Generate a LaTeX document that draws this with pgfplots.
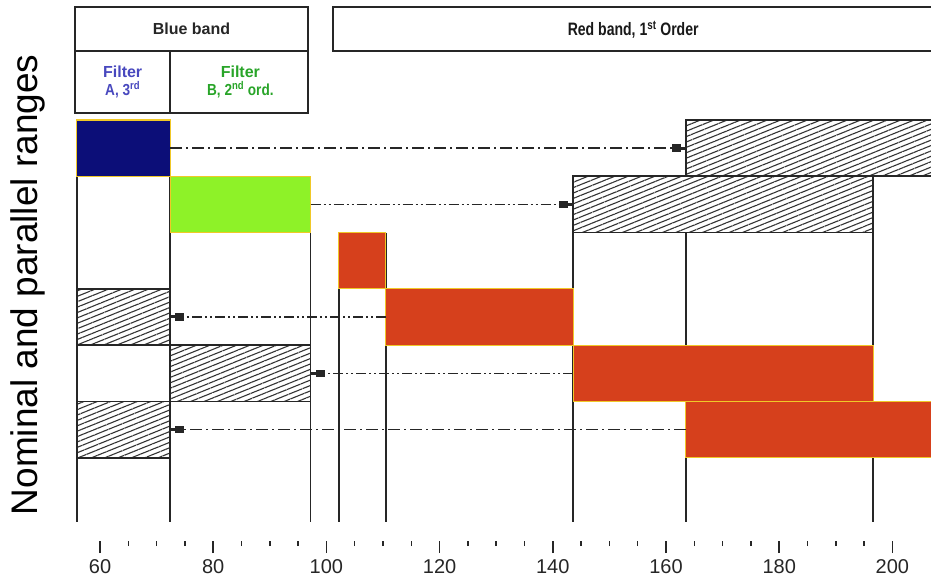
\documentclass[border=0pt]{standalone}
\usepackage{pgfplots}
\pgfplotsset{compat=1.18}
\usepackage{fontspec}
\setmainfont{Liberation Sans}
\usetikzlibrary{patterns.meta,arrows.meta}
\definecolor{navyb}{RGB}{12,14,120}
\definecolor{greenb}{RGB}{142,242,40}
\definecolor{redb}{RGB}{214,64,28}
\definecolor{goldb}{RGB}{240,200,40}
\definecolor{filtA}{RGB}{72,72,190}
\definecolor{filtB}{RGB}{40,164,40}
\tikzset{
  hatch/.style={fill=white, draw=black!85, line width=1.7pt,
    postaction={pattern={Lines[angle=22,distance=5pt,line width=1.1pt]}, pattern color=black!80}},
  colbox/.style={fill=#1, draw=goldb, line width=1.2pt},
  vline/.style={draw=black!85, line width=1.8pt},
  arr/.style={line width=1.4pt, draw=black!85, -{Rectangle[length=9pt,width=7.5pt,sep=0pt]Rectangle[length=5pt,width=3pt,sep=0pt]}},
  dd/.style={dash pattern=on 10pt off 3pt on 2pt off 3pt on 2pt off 3pt},
  dot1/.style={dash pattern=on 12pt off 4pt on 2pt off 4pt},
}
\begin{document}
\begin{tikzpicture}
\begin{axis}[
  x=5.66pt, y=56.3pt,
  xmin=50, xmax=206.8, ymin=-1.48, ymax=6,
  clip=false,
  axis x line*=bottom, axis y line=none,
  x axis line style={draw=none}, axis line style={draw=none},
  xtick={60,80,...,200},
  minor xtick={65,70,75,85,90,95,105,110,115,125,130,135,145,150,155,165,170,175,185,190,195},
  xtick align=outside,
  major tick length=12pt, minor tick length=5pt,
  tick style={line width=1.5pt, black!85},
  xticklabel style={font=\fontsize{20}{24}\selectfont, black!85, yshift=-3pt},
  /pgf/number format/assume math mode=true,
  ytick=\empty,
]
% vertical lines
\addplot[vline] coordinates {(55.9,6)(55.9,-1.14)};
\addplot[vline] coordinates {(72.4,6)(72.4,-1.14)};
\addplot[vline] coordinates {(97.2,5)(97.2,-1.14)};
\addplot[vline] coordinates {(102.2,4)(102.2,-1.14)};
\addplot[vline] coordinates {(110.5,4)(110.5,-1.14)};
\addplot[vline] coordinates {(143.6,5)(143.6,-1.14)};
\addplot[vline] coordinates {(163.5,6)(163.5,-1.14)};
\addplot[vline] coordinates {(196.6,5)(196.6,-1.14)};
% row 1
\addplot[colbox=navyb] coordinates {(55.9,5)(72.4,5)(72.4,6)(55.9,6)} -- cycle;
\addplot[hatch] coordinates {(163.5,5)(215,5)(215,6)(163.5,6)} -- cycle;
% row 2
\addplot[colbox=greenb] coordinates {(72.4,4)(97.2,4)(97.2,5)(72.4,5)} -- cycle;
\addplot[hatch] coordinates {(143.6,4)(196.6,4)(196.6,5)(143.6,5)} -- cycle;
% row 3
\addplot[colbox=redb] coordinates {(102.2,3)(110.5,3)(110.5,4)(102.2,4)} -- cycle;
% row 4
\addplot[hatch] coordinates {(55.9,2)(72.4,2)(72.4,3)(55.9,3)} -- cycle;
\addplot[colbox=redb] coordinates {(110.5,2)(143.6,2)(143.6,3)(110.5,3)} -- cycle;
% row 5
\addplot[hatch] coordinates {(72.4,1)(97.2,1)(97.2,2)(72.4,2)} -- cycle;
\addplot[colbox=redb] coordinates {(143.6,1)(196.6,1)(196.6,2)(143.6,2)} -- cycle;
% row 6
\addplot[hatch] coordinates {(55.9,0)(72.4,0)(72.4,1)(55.9,1)} -- cycle;
\addplot[colbox=redb] coordinates {(163.5,0)(215,0)(215,1)(163.5,1)} -- cycle;
% arrows
\addplot[arr, dot1] coordinates {(72.4,5.5)(163.5,5.5)};
\addplot[arr, dd] coordinates {(97.2,4.5)(143.6,4.5)};
\addplot[arr, dd] coordinates {(110.5,2.5)(72.4,2.5)};
\addplot[arr, dd] coordinates {(143.6,1.5)(97.2,1.5)};
\addplot[arr, dot1] coordinates {(163.5,0.5)(72.4,0.5)};
% header boxes
\draw[line width=1.9pt, black!85] (axis cs:55.6,7.22) rectangle (axis cs:96.7,8.0);
\draw[line width=1.9pt, black!85] (axis cs:55.6,6.12) rectangle (axis cs:72.4,7.22);
\draw[line width=1.9pt, black!85] (axis cs:72.4,6.12) rectangle (axis cs:96.7,7.22);
\draw[line width=1.9pt, black!85] (axis cs:101.1,7.22) rectangle (axis cs:215,8.0);
\node[font=\bfseries\fontsize{16}{19}\selectfont, text=black!85] at (axis cs:76.15,7.61) {Blue band};
\node[align=center, text=filtA, font=\bfseries\fontsize{16}{18}\selectfont] at (axis cs:64.0,6.67) {Filter\\\scalebox{0.85}[1]{A, 3\textsuperscript{rd}}};
\node[align=center, text=filtB, font=\bfseries\fontsize{16}{18}\selectfont] at (axis cs:84.8,6.67) {Filter\\\scalebox{0.85}[1]{B, 2\textsuperscript{nd} ord.}};
\node[text=black!90] at (axis cs:154.2,7.6) {\scalebox{0.78}[1]{\bfseries\fontsize{18}{21}\selectfont Red band, 1\textsuperscript{st} Order}};
% y label
\node[rotate=90, anchor=base, font=\fontsize{37}{42}\selectfont] at (axis cs:48.87,3.07) {Nominal and parallel ranges};
\coordinate (bbsw) at (axis cs:42.33,-2.19);
\coordinate (bbne) at (axis cs:206.82,8.13);
\end{axis}
\pgfresetboundingbox
\useasboundingbox (bbsw) rectangle (bbne);
\end{tikzpicture}
\end{document}
